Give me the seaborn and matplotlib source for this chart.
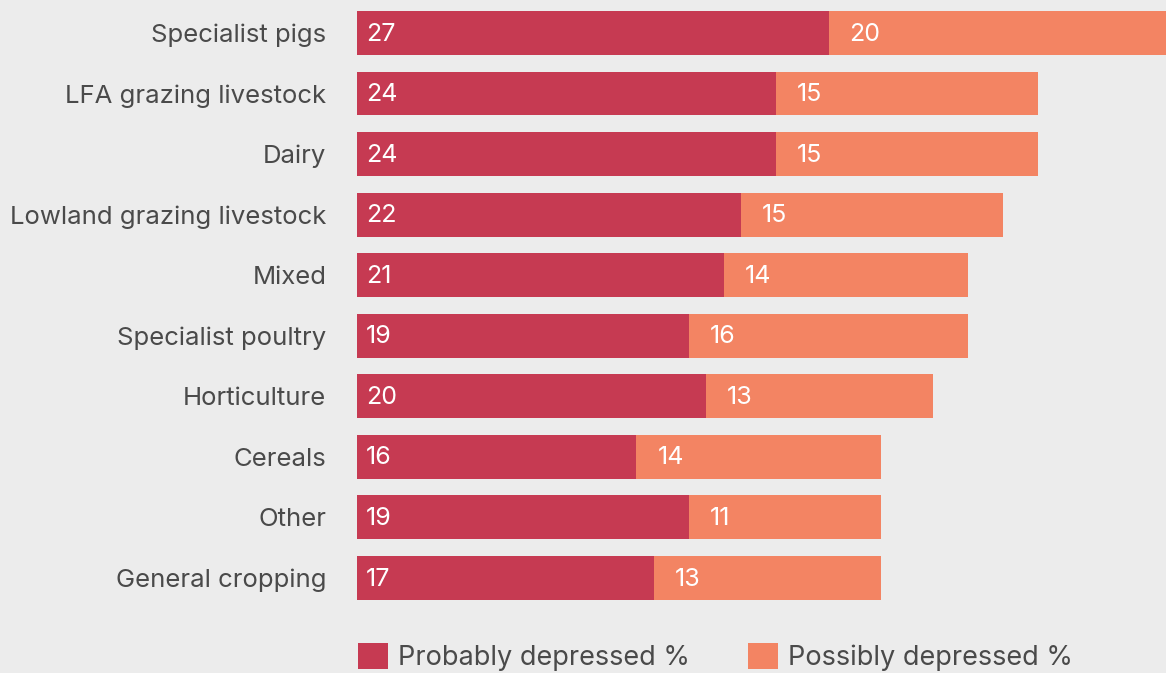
import matplotlib
matplotlib.use("Agg")
import matplotlib.pyplot as plt
from matplotlib.patches import Patch
import seaborn as sns
import pandas as pd

categories = ["Specialist pigs", "LFA grazing livestock", "Dairy", "Lowland grazing livestock",
              "Mixed", "Specialist poultry", "Horticulture", "Cereals", "Other", "General cropping"]
probably = [27, 24, 24, 22, 21, 19, 20, 16, 19, 17]
possibly = [20, 15, 15, 15, 14, 16, 13, 14, 11, 13]
series_names = ["Probably depressed %", "Possibly depressed %"]

RED = "#c63a52"
ORANGE = "#f38463"
BG = "#ececec"
TXT = "#4a4a4a"

sns.set_theme(style="white")
plt.rcParams["font.family"] = ["Inter", "DejaVu Sans"]

df = pd.DataFrame({"cat": categories, "prob": probably, "poss": possibly})
df["total"] = df["prob"] + df["poss"]

fig = plt.figure(figsize=(11.66, 6.73), dpi=100, facecolor=BG)
ax = fig.add_axes([357 / 1166, 1 - 608 / 673, 1 - 357 / 1166, (608 - 2.7) / 673])
ax.set_facecolor(BG)

sns.barplot(data=df, x="total", y="cat", color=ORANGE, orient="h", width=0.726,
            saturation=1, ax=ax, errorbar=None, linewidth=0, edgecolor="none")
sns.barplot(data=df, x="prob", y="cat", color=RED, orient="h", width=0.726,
            saturation=1, ax=ax, errorbar=None, linewidth=0, edgecolor="none")

ax.set_xlim(0, 809 / 17.465)
ax.set_ylim(9.5, -0.5)
for s in ax.spines.values():
    s.set_visible(False)
ax.set_xticks([])
ax.set_xlabel("")
ax.set_ylabel("")
ax.tick_params(axis="y", length=0, pad=22, labelsize=18.5, labelcolor=TXT)

for i, (p, q) in enumerate(zip(probably, possibly)):
    ax.text(0.5, i - 0.02, str(p), va="center_baseline", ha="left", color="white", fontsize=18)
    ax.text(p + 1.2, i - 0.02, str(q), va="center_baseline", ha="left", color="white", fontsize=18)

handles = [Patch(facecolor=RED, edgecolor="none"), Patch(facecolor=ORANGE, edgecolor="none")]
leg = fig.legend(handles, series_names, loc="center left", bbox_to_anchor=(358 / 1166, 1 - 657 / 673),
                 ncol=2, frameon=False, fontsize=19.5, handlelength=1.1, handleheight=1.1,
                 handletextpad=0.37, columnspacing=2.15, borderpad=0, borderaxespad=0)
for t in leg.get_texts():
    t.set_color(TXT)

fig.savefig("out.png", dpi=100, facecolor=BG)
